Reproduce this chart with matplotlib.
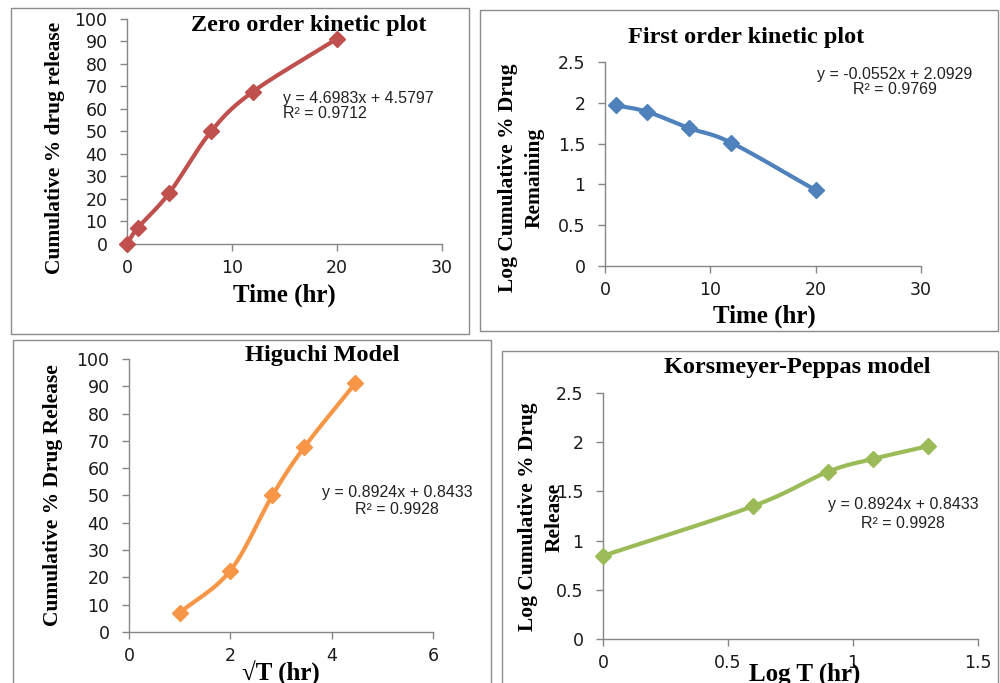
import matplotlib
matplotlib.use('Agg')
import matplotlib.pyplot as plt
from matplotlib.patches import Rectangle
import numpy as np

# data
time_hr = [0, 1, 4, 8, 12, 20]
cum_release = [0, 7.0, 22.5, 50.0, 67.7, 91.2]

time_first = [1, 4, 8, 12, 20]
log_remaining = [1.97, 1.89, 1.69, 1.51, 0.93]

sqrt_t = [1.0, 2.0, 2.83, 3.46, 4.47]
cum_release_h = [7.0, 22.5, 50.0, 67.7, 91.2]

log_t = [0.0, 0.60, 0.90, 1.08, 1.30]
log_release = [0.845, 1.35, 1.70, 1.83, 1.96]

W, H = 1000, 683
grey = '#868686'
serif = 'Liberation Serif'


def fp(x, y):
    # pixel position -> figure fraction
    return x / W, 1 - y / H


def smooth(x, y, n=30):
    # catmull-rom curve through the points, like excel's smoothed lines
    x = np.asarray(x, float)
    y = np.asarray(y, float)
    px = np.concatenate([[2 * x[0] - x[1]], x, [2 * x[-1] - x[-2]]])
    py = np.concatenate([[2 * y[0] - y[1]], y, [2 * y[-1] - y[-2]]])
    xs, ys = [], []
    t = np.linspace(0, 1, n)
    for i in range(1, len(px) - 2):
        for p, out in ((px, xs), (py, ys)):
            p0, p1, p2, p3 = p[i - 1], p[i], p[i + 1], p[i + 2]
            out.extend(0.5 * ((2 * p1) + (-p0 + p2) * t
                              + (2 * p0 - 5 * p1 + 4 * p2 - p3) * t ** 2
                              + (-p0 + 3 * p1 - 3 * p2 + p3) * t ** 3))
    return xs, ys


def make_axes(rect, xlim, xticks, ylim, yticks):
    ax = fig.add_axes(rect)
    ax.set_xlim(*xlim)
    ax.set_ylim(*ylim)
    ax.set_xticks(xticks)
    ax.set_yticks(yticks)
    for s in ['top', 'right']:
        ax.spines[s].set_visible(False)
    for s in ['left', 'bottom']:
        ax.spines[s].set_color(grey)
        ax.spines[s].set_linewidth(1.0)
    ax.tick_params(colors=grey, labelcolor='#1a1a1a', labelsize=12.5,
                   length=5, width=1.0, direction='out')
    ax.tick_params(axis='x', pad=6)
    ax.tick_params(axis='y', pad=9)
    ax.patch.set_alpha(0)
    return ax


def draw(ax, x, y, color):
    sx, sy = smooth(x, y)
    ax.plot(sx, sy, color=color, lw=3, clip_on=False, zorder=3)
    ax.plot(x, y, 'D', color=color, ms=8.5, clip_on=False, zorder=4)


def txt(x, y, s, **kw):
    fx, fy = fp(x, y)
    fig.text(fx, fy, s, **kw)


fig = plt.figure(figsize=(10, 6.83), dpi=100)

# panel frames
for x0, y0, x1, y1 in [(11, 8, 469, 334), (480, 10, 998, 331),
                       (13, 340, 491, 690), (502, 351, 998, 690)]:
    fig.patches.append(Rectangle(fp(x0, y1), (x1 - x0) / W, (y1 - y0) / H,
                                 transform=fig.transFigure, fill=False,
                                 ec='#8c8c8c', lw=1.0))

title_kw = dict(family=serif, weight='bold', fontsize=17.5, ha='center', va='center')
ylab_kw = dict(family=serif, weight='bold', fontsize=15.5, ha='center', va='center',
               rotation=90)
xlab_kw = dict(family=serif, weight='bold', fontsize=18, ha='center', va='center')
eq_kw = dict(family='Liberation Sans', fontsize=11.5, color='#222222', va='center')

# zero order
ax1 = make_axes([0.127, 0.6428, 0.315, 0.3294], (0, 30), [0, 10, 20, 30],
                (0, 100), range(0, 101, 10))
draw(ax1, time_hr, cum_release, '#C0504D')
txt(309, 26, 'Zero order kinetic plot', **title_kw)
txt(55, 148, 'Cumulative % drug release', **ylab_kw)
txt(284, 295, 'Time (hr)', **xlab_kw)
txt(283, 98, 'y = 4.6983x + 4.5797', ha='left', **eq_kw)
txt(283, 114, 'R² = 0.9712', ha='left', **eq_kw)

# first order
ax2 = make_axes([0.605, 0.6105, 0.316, 0.2987], (0, 30), [0, 10, 20, 30],
                (0, 2.5), [0, 0.5, 1, 1.5, 2, 2.5])
ax2.set_yticklabels(['0', '0.5', '1', '1.5', '2', '2.5'])
draw(ax2, time_first, log_remaining, '#4F81BD')
txt(746, 37, 'First order kinetic plot', **title_kw)
txt(521, 178, 'Log Cumulative % Drug\nRemaining', linespacing=1.45, **ylab_kw)
txt(764, 316, 'Time (hr)', **xlab_kw)
txt(895, 74, 'y = -0.0552x + 2.0929', ha='center', **eq_kw)
txt(895, 89, 'R² = 0.9769', ha='center', **eq_kw)

# higuchi
ax3 = make_axes([0.129, 0.0747, 0.304, 0.3997], (0, 6), [0, 2, 4, 6],
                (0, 100), range(0, 101, 10))
draw(ax3, sqrt_t, cum_release_h, '#F79646')
txt(322, 356, 'Higuchi Model', **title_kw)
txt(53, 495, 'Cumulative % Drug Release', **ylab_kw)
txt(281, 673, '√T (hr)', **xlab_kw)
txt(397, 492, 'y = 0.8924x + 0.8433', ha='center', **eq_kw)
txt(397, 510, 'R² = 0.9928', ha='center', **eq_kw)

# korsmeyer-peppas
ax4 = make_axes([0.603, 0.0644, 0.375, 0.3602], (0, 1.5), [0, 0.5, 1, 1.5],
                (0, 2.5), [0, 0.5, 1, 1.5, 2, 2.5])
ax4.set_xticklabels(['0', '0.5', '1', '1.5'])
ax4.set_yticklabels(['0', '0.5', '1', '1.5', '2', '2.5'])
draw(ax4, log_t, log_release, '#9BBB59')
txt(797, 367, 'Korsmeyer-Peppas model', **title_kw)
txt(541, 517, 'Log Cumulative % Drug\nRelease', linespacing=1.45, **ylab_kw)
txt(805, 674, 'Log T (hr)', **xlab_kw)
txt(903, 505, 'y = 0.8924x + 0.8433', ha='center', **eq_kw)
txt(903, 523, 'R² = 0.9928', ha='center', **eq_kw)

fig.savefig('out.png', dpi=100)
